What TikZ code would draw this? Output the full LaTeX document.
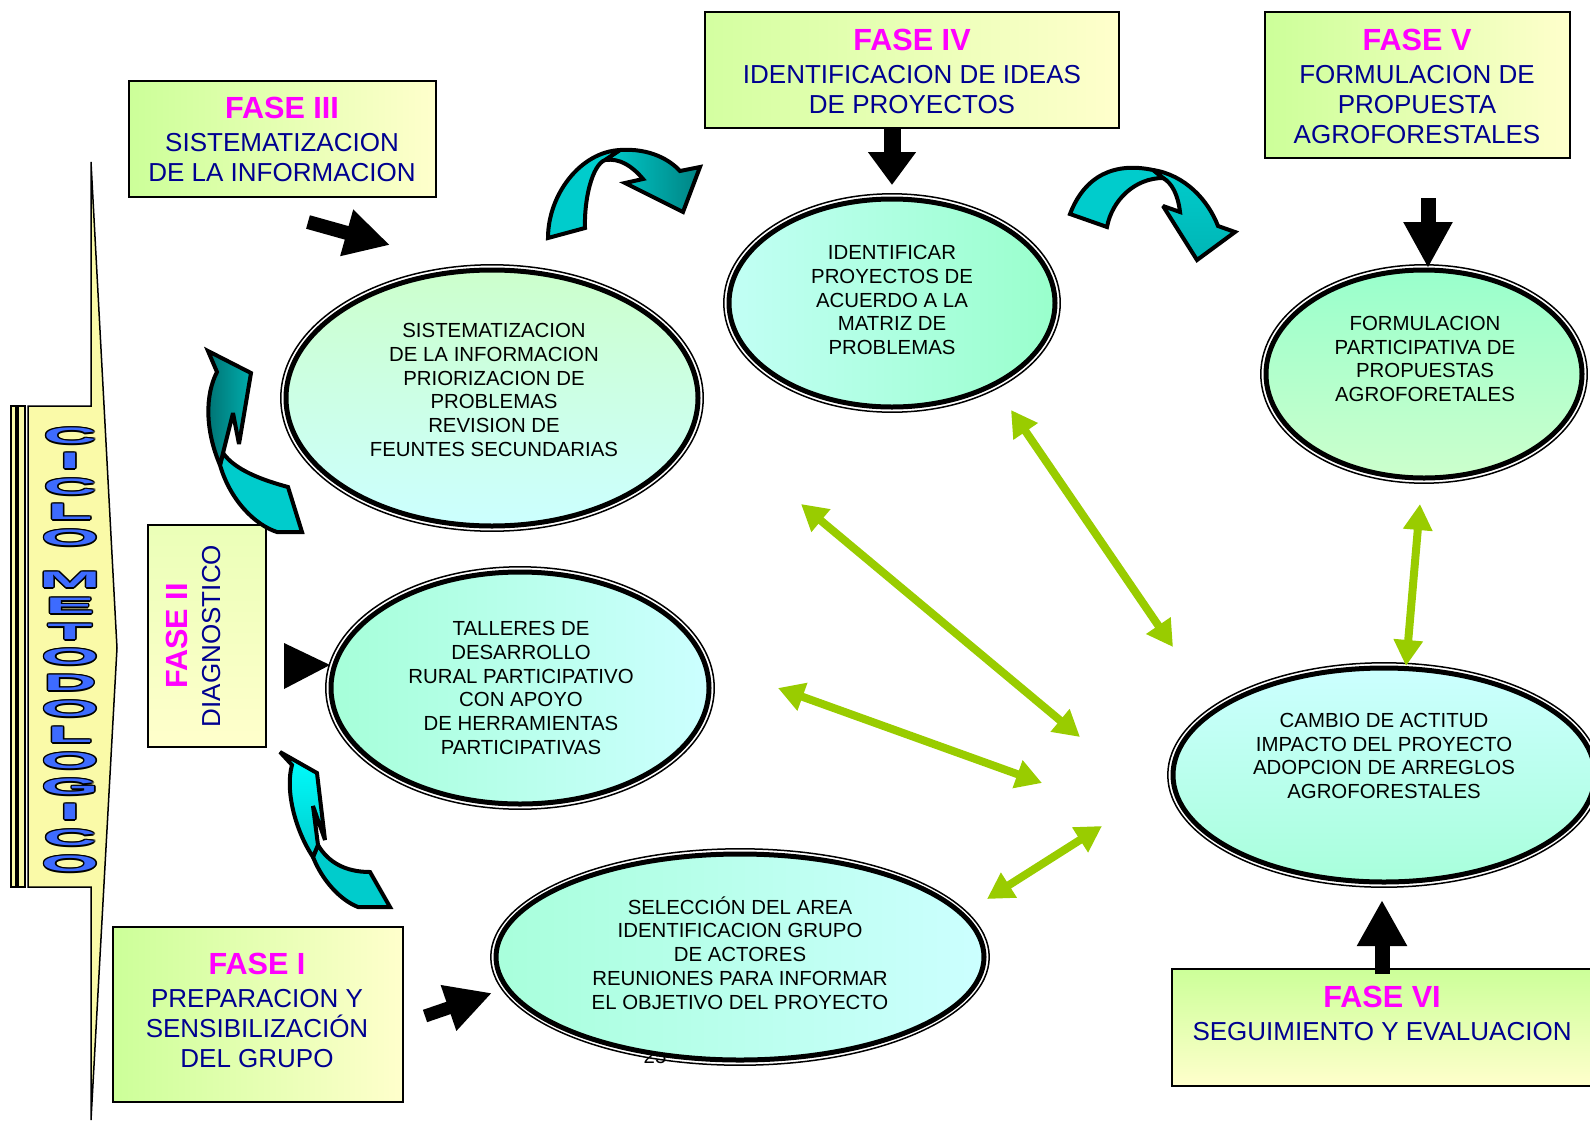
\documentclass[tikz,border=0pt]{standalone}
\usepackage{fontspec}
\setmainfont{Liberation Sans}
\usetikzlibrary{arrows.meta,shapes.geometric}

\definecolor{navy}{HTML}{000090}
\definecolor{fasemag}{HTML}{FF00FF}
\definecolor{boxgreen}{HTML}{CCFF99}
\definecolor{boxyellow}{HTML}{FFFFCC}
\definecolor{aqua}{HTML}{99FFCC}
\definecolor{icecyan}{HTML}{CCFFFF}
\definecolor{palegreen}{HTML}{CCFFCC}
\definecolor{lime}{HTML}{99CC00}
\definecolor{turq}{HTML}{00CCCC}
\definecolor{brightcyan}{HTML}{00FFFF}
\definecolor{tealdark}{HTML}{007070}
\definecolor{letterblue}{HTML}{3D6BFF}
\definecolor{shaftyellow}{HTML}{FAFAA8}

% wide outlined capitals for the vertical title
\newcommand\widel[1]{\scalebox{3.3}[1]{\fontsize{11.2}{11.2}\selectfont\bfseries #1}}
\newcommand\shiftl[3]{\makebox[0pt]{\hspace*{#1}\raisebox{#2}{#3}\hspace*{-#1}}}
\newcommand\outlined[1]{%
  \shiftl{0.75pt}{0pt}{\widel{#1}}\shiftl{-0.75pt}{0pt}{\widel{#1}}%
  \shiftl{0pt}{0.7pt}{\widel{#1}}\shiftl{0pt}{-0.7pt}{\widel{#1}}%
  \shiftl{0.55pt}{0.5pt}{\widel{#1}}\shiftl{-0.55pt}{0.5pt}{\widel{#1}}%
  \shiftl{0.55pt}{-0.5pt}{\widel{#1}}\shiftl{-0.55pt}{-0.5pt}{\widel{#1}}%
  \shiftl{0pt}{0pt}{\color{letterblue}\widel{#1}}}
\newcommand\fasehead[1]{{\fontsize{15.3}{15.3}\selectfont\bfseries\color{fasemag}#1}}

\tikzset{
  fasebox/.style={draw=black, line width=0.75pt, inner sep=0pt},
  fasetext/.style={align=center, text=navy, font=\fontsize{13}{15}\selectfont, inner sep=0pt},
  ring/.style={ellipse, draw=black, line width=2.5pt, inner sep=0pt},
  outerring/.style={draw=black, line width=0.75pt},
  elltext/.style={align=center, font=\fontsize{10.2}{11.9}\selectfont, inner sep=0pt},
  blk/.style n args={3}{draw=black, line width=#1, -{Triangle[length=#2,width=#3]}},
  dbl/.style={draw=lime, line width=4pt,
    {Triangle[length=13pt,width=14pt]}-{Triangle[length=13pt,width=14pt]}},
  cyanarrow/.style={draw=black, line width=2pt, line join=miter, miter limit=3},
}

\begin{document}
\begin{tikzpicture}[x=0.5pt, y=-0.5pt]
\useasboundingbox (0,0) rectangle (1590,1125);
\clip (0,0) rectangle (1590,1125);

% ---------- vertical striped arrow with the title ----------
\draw[line width=0.75pt, fill=shaftyellow] (11,406) rectangle (16,887);
\draw[line width=0.75pt, fill=shaftyellow] (18,406) rectangle (25,887);
\draw[line width=0.75pt, left color=shaftyellow, middle color=icecyan, right color=shaftyellow]
  (91,162) -- (117,648) -- (91,1120) -- (91,887) -- (28,887) -- (28,406) -- (91,406) -- cycle;
\foreach \ch/\yy [count=\k] in {C/436, I/461, C/487, L/512, O/538, M/580, E/606, T/632,
    O/657, D/683, O/709, L/735, O/761, G/787, I/812, C/838, O/864}
  \node[inner sep=0pt] (title\k) at (70,\yy) {\outlined{\ch}};

% ---------- phase boxes ----------
\node[fasebox, minimum width=153.5pt, minimum height=58pt, left color=boxgreen, right color=boxyellow] (b3) at (282.5,139) {};
\node[fasetext] (t3) at (282,139) {\fasehead{FASE III}\\[1.5pt] SISTEMATIZACION\\ DE LA INFORMACION};

\node[fasebox, minimum width=207pt, minimum height=58pt, left color=boxgreen!85!boxyellow, right color=boxyellow] (b4) at (912,70) {};
\node[fasetext] (t4) at (912,71) {\fasehead{FASE IV}\\[1.5pt] IDENTIFICACION DE IDEAS\\ DE PROYECTOS};

\node[fasebox, minimum width=152.5pt, minimum height=73pt, left color=boxgreen, right color=boxyellow] (b5) at (1417.5,85) {};
\node[fasetext] (t5) at (1417,86.5) {\fasehead{FASE V}\\[1.5pt] FORMULACION DE\\ PROPUESTA\\ AGROFORESTALES};

\node[fasebox, minimum width=59pt, minimum height=111pt, top color=boxgreen!40!boxyellow, bottom color=boxyellow] (b2) at (207,636) {};
\node[fasetext, rotate=90] (t2) at (193,636) {\fasehead{FASE II}\\[1.5pt] DIAGNOSTICO};

\node[fasebox, minimum width=145pt, minimum height=87.5pt, left color=boxgreen, right color=boxyellow] (b1) at (258,1014.5) {};
\node[fasetext] (t1) at (257,1010) {\fasehead{FASE I}\\[1.5pt] PREPARACION Y\\ SENSIBILIZACIÓN\\ DEL GRUPO};

\node[fasebox, minimum width=211pt, minimum height=58.5pt, top color=boxgreen, bottom color=boxyellow] (b6) at (1383,1027.5) {};
\node[fasetext] (t6) at (1382,1013) {\fasehead{FASE VI}\\[1.5pt] SEGUIMIENTO Y EVALUACION};

% page number partly hidden by the lower ellipse
\node[font=\fontsize{10.2}{12}\selectfont, inner sep=0pt, anchor=base] (pg) at (655,1063) {25};

% ---------- ellipses ----------
\node[ring, minimum width=206pt, minimum height=128pt, top color=palegreen, bottom color=icecyan] (eA) at (492,398) {};
\draw[outerring] (eA.center) ellipse [x radius=105.6pt, y radius=66.6pt];
\node[elltext] (tA) at (494,390) {SISTEMATIZACION\\ DE LA INFORMACION\\ PRIORIZACION DE\\ PROBLEMAS\\ REVISION DE\\ FEUNTES SECUNDARIAS};

\node[ring, minimum width=163pt, minimum height=104pt, left color=icecyan!80!aqua, right color=aqua] (eB) at (892,303) {};
\draw[outerring] (eB.center) ellipse [x radius=84.1pt, y radius=54.6pt];
\node[elltext] (tB) at (892,300) {IDENTIFICAR\\ PROYECTOS DE\\ ACUERDO A LA\\ MATRIZ DE\\ PROBLEMAS};

\node[ring, minimum width=158pt, minimum height=104pt, top color=aqua, bottom color=palegreen] (eC) at (1424,374) {};
\draw[outerring] (eC.center) ellipse [x radius=81.6pt, y radius=54.6pt];
\node[elltext] (tC) at (1425,359) {FORMULACION\\ PARTICIPATIVA DE\\ PROPUESTAS\\ AGROFORETALES};

\node[ring, minimum width=189pt, minimum height=116pt, left color=aqua!75!icecyan, right color=icecyan] (eD) at (520,688) {};
\draw[outerring] (eD.center) ellipse [x radius=97.1pt, y radius=60.6pt];
\node[elltext] (tD) at (521,688) {TALLERES DE\\ DESARROLLO\\ RURAL PARTICIPATIVO\\ CON APOYO\\ DE HERRAMIENTAS\\ PARTICIPATIVAS};

\node[ring, minimum width=211pt, minimum height=107pt, top color=icecyan, bottom color=aqua!70!icecyan] (eE) at (1384,775) {};
\draw[outerring] (eE.center) ellipse [x radius=108.1pt, y radius=56.1pt];
\node[elltext] (tE) at (1384,756) {CAMBIO DE ACTITUD\\ IMPACTO DEL PROYECTO\\ ADOPCION DE ARREGLOS\\ AGROFORESTALES};

\node[ring, minimum width=244pt, minimum height=103pt, left color=aqua!70!icecyan, right color=icecyan] (eF) at (740,957) {};
\draw[outerring] (eF.center) ellipse [x radius=124.6pt, y radius=54.1pt];
\node[elltext] (tF) at (740,953) {SELECCIÓN DEL AREA\\ IDENTIFICACION GRUPO\\ DE ACTORES\\ REUNIONES PARA INFORMAR\\ EL OBJETIVO DEL PROYECTO};

% ---------- black block arrows from the phase boxes ----------
\coordinate (a3s) at (308,222);  \coordinate (a3e) at (390,245);
\coordinate (a4s) at (892,128);  \coordinate (a4e) at (892,185);
\coordinate (a5s) at (1428,198); \coordinate (a5e) at (1428,268);
\coordinate (a1s) at (425,1016); \coordinate (a1e) at (492,993);
\coordinate (a6s) at (1382,974); \coordinate (a6e) at (1382,900);
\coordinate (a2u) at (284,643);  \coordinate (a2t) at (330,665); \coordinate (a2d) at (284,689);
\draw[blk={7pt}{22.5pt}{22.5pt}] (a3s) -- (a3e);
\draw[blk={8.5pt}{16.5pt}{23pt}] (a4s) -- (a4e);
\draw[blk={7.5pt}{23pt}{23pt}] (a5s) -- (a5e);
\draw[blk={6.5pt}{23pt}{22.5pt}] (a1s) -- (a1e);
\draw[blk={7.5pt}{23pt}{23.5pt}] (a6s) -- (a6e);
\fill[black] (a2u) -- (a2t) -- (a2d) -- cycle;

% ---------- green two-way arrows ----------
\coordinate (g1a) at (801,504);  \coordinate (g1b) at (1080,737);
\coordinate (g2a) at (1011,410); \coordinate (g2b) at (1173,647);
\coordinate (g3a) at (778,688);  \coordinate (g3b) at (1042,783);
\coordinate (g4a) at (987,899);  \coordinate (g4b) at (1102,826);
\coordinate (g5a) at (1420,504); \coordinate (g5b) at (1406,666);
\draw[dbl] (g1a) -- (g1b);
\draw[dbl] (g2a) -- (g2b);
\draw[dbl] (g3a) -- (g3b);
\draw[dbl] (g4a) -- (g4b);
\draw[dbl] (g5a) -- (g5b);

% ---------- curved cyan arrows ----------
% upper left, towards phase IV
\draw[cyanarrow, left color=turq, middle color=brightcyan!90!turq, right color=tealdark!80!turq]
  (620,150) .. controls (650,148) and (670,160) .. (680,171) -- (700,167) -- (683,212)
  -- (625,183) -- (643,179) .. controls (632,166) and (620,158) .. (605,160) -- cycle;
\draw[cyanarrow, fill=turq]
  (548,238) .. controls (548,195) and (580,152) .. (620,150) -- (605,160)
  .. controls (592,165) and (584,200) .. (585,228) -- cycle;
% upper right, towards phase V
\draw[cyanarrow, top color=turq, middle color=brightcyan, bottom color=turq!75!tealdark]
  (1153,170) .. controls (1185,175) and (1208,200) .. (1218,226) -- (1235,232) -- (1197,260)
  -- (1163,206) -- (1180,212) .. controls (1178,195) and (1172,183) .. (1163,178) -- cycle;
\draw[cyanarrow, fill=turq]
  (1070,214) .. controls (1085,175) and (1115,162) .. (1153,170) -- (1163,178)
  .. controls (1135,178) and (1112,200) .. (1107,227) -- cycle;
% left, from phase II up to phase III
\draw[cyanarrow, fill=turq]
  (288,487) .. controls (262,480) and (235,470) .. (223,453) -- (220,465)
  .. controls (230,500) and (255,525) .. (277,532) -- (302,532) -- cycle;
\draw[cyanarrow, left color=tealdark, right color=turq!85!black]
  (223,453) -- (233,413) -- (239,444) -- (251,373) -- (208,351) -- (217,372)
  .. controls (205,395) and (205,430) .. (220,465) -- cycle;
% lower left, from phase I up to phase II
\draw[cyanarrow, fill=turq]
  (370,872) .. controls (345,872) and (328,862) .. (318,845) -- (313,857)
  .. controls (322,880) and (340,900) .. (358,907) -- (390,907) -- cycle;
\draw[cyanarrow, top color=brightcyan, bottom color=turq]
  (318,845) -- (313,806) -- (325,840) -- (317,773) -- (280,752) -- (292,765)
  .. controls (285,790) and (295,830) .. (313,857) -- cycle;
\end{tikzpicture}
\end{document}
